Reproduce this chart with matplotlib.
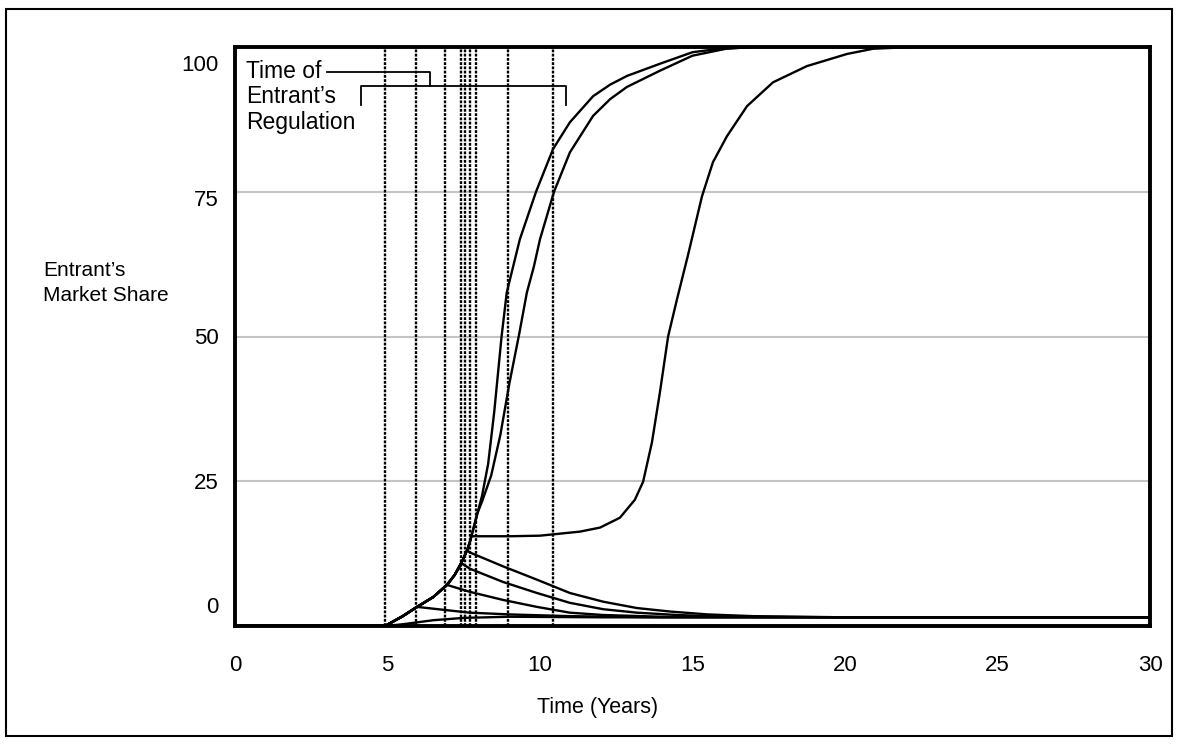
import matplotlib
matplotlib.use('Agg')
import matplotlib.pyplot as plt
from matplotlib.patches import Rectangle
from matplotlib.transforms import ScaledTranslation

plt.rcParams['font.family'] = ['Liberation Sans', 'DejaVu Sans']

# regulation times (years) for each simulated run
reg_times = [4.92, 5.93, 6.89, 7.40, 7.54, 7.70, 7.89, 8.95, 10.43]

# shared growth path before any regulation kicks in
base_t = [0, 4.92, 5.5, 5.97, 6.5, 6.95, 7.2, 7.44, 7.61, 7.70, 7.85, 7.95]
base_s = [0, 0, 1.7, 3.3, 5.0, 7.1, 8.8, 11.1, 13.1, 14.5, 17.5, 19.5]

# late regulation: entrant takes over the market
late_t = [8.1, 8.3, 8.5, 8.74, 8.91, 9.12, 9.34, 9.87, 10.43, 10.98, 11.74, 12.3, 12.85,
          13.93, 15.0, 15.9, 17.0, 30]
late_s = [22.5, 28, 37, 50, 57.6, 62.1, 66.8, 75, 82.4, 87.0, 91.5, 93.5, 95.0,
          97.1, 99.1, 99.7, 100, 100]

mid_t = [8.1, 8.4, 8.7, 9.0, 9.32, 9.57, 9.80, 10.0, 10.46, 10.98, 11.74, 12.3, 12.85,
         13.93, 15.0, 16.1, 17.0, 30]
mid_s = [21.5, 26, 33, 42, 50.5, 57.6, 62.1, 66.8, 75, 81.8, 88.1, 91.0, 93.1,
         95.9, 98.5, 99.7, 100, 100]

# stalls at ~15% before breaking through
stall_t = [7.75, 9, 10, 11.31, 11.97, 12.62, 13.11, 13.38, 13.67, 13.93, 14.20, 14.49, 14.85,
           15.31, 15.67, 16.13, 16.79, 17.64, 18.75, 20.07, 20.92, 22.2, 30]
stall_s = [15.5, 15.5, 15.6, 16.3, 17.0, 18.7, 21.8, 24.9, 31.7, 40.3, 50.0, 56.4, 64,
           74.2, 80.1, 84.6, 89.8, 93.9, 96.7, 98.8, 99.7, 100, 100]

# early regulation: share decays toward a small residual
dec1_t = [7.61, 7.70, 8.79, 9.9, 10.98, 12.07, 13.18, 14.26, 15.5, 17, 20, 30]
dec1_s = [13.1, 12.7, 10.3, 8.0, 5.7, 4.2, 3.1, 2.5, 2.0, 1.7, 1.5, 1.5]

dec2_t = [7.44, 7.70, 8.79, 9.9, 10.98, 12.07, 13.18, 14.5, 16, 20, 30]
dec2_s = [10.8, 9.9, 7.6, 5.7, 4.0, 2.9, 2.3, 1.9, 1.6, 1.5, 1.5]

dec3_t = [6.95, 7.70, 8.79, 9.9, 10.98, 12.07, 14, 20, 30]
dec3_s = [7.1, 5.9, 4.5, 3.3, 2.3, 1.9, 1.6, 1.5, 1.5]

dec4_t = [5.97, 7.0, 7.70, 9, 11, 14, 30]
dec4_s = [3.3, 2.7, 2.3, 2.0, 1.7, 1.5, 1.5]

dec5_t = [4.92, 5.5, 6.5, 7.5, 9, 12, 30]
dec5_s = [0, 0.3, 1.0, 1.4, 1.6, 1.5, 1.5]

y_ticks = [0, 25, 50, 75, 100]
x_ticks = [0, 5, 10, 15, 20, 25, 30]


def run(tail_t, tail_s):
    # prepend the common path up to where this run diverges
    head = [(t, s) for t, s in zip(base_t, base_s) if t < tail_t[0]]
    ts = [p[0] for p in head] + list(tail_t)
    ss = [p[1] for p in head] + list(tail_s)
    return ts, ss


fig = plt.figure(figsize=(11.8, 7.44), dpi=100)
ax = fig.add_axes([235 / 1180, 1 - 626 / 744, 915 / 1180, 579 / 744])

for t in reg_times:
    ax.axvline(t, color='black', linestyle=(0, (1.2, 0.6)), linewidth=1.7, zorder=2)

for tail_t, tail_s in [(late_t, late_s), (mid_t, mid_s), (stall_t, stall_s),
                       (dec1_t, dec1_s), (dec2_t, dec2_s), (dec3_t, dec3_s),
                       (dec4_t, dec4_s), (dec5_t, dec5_s)]:
    ts, ss = run(tail_t, tail_s)
    ax.plot(ts, ss, color='black', linewidth=1.7, zorder=3)

ax.set_xlim(0, 30)
ax.set_ylim(0, 100)
ax.set_xticks(x_ticks)
ax.set_yticks(y_ticks)
ax.set_xticklabels([str(v) for v in x_ticks])
ax.set_yticklabels([str(v) for v in y_ticks])
ax.tick_params(length=0, labelsize=16)
ax.tick_params(axis='x', pad=21)
ax.tick_params(axis='y', pad=12)
ax.yaxis.grid(True, color='#c4c4c4', linewidth=1.5)
ax.set_axisbelow(True)
for sp in ax.spines.values():
    sp.set_linewidth(2.8)
    sp.set_color('black')

# nudge the end labels inward like the original plotting tool
shifts = {0: 15, 75: -4.5, 100: -11.5}
for val, lab in zip(y_ticks, ax.get_yticklabels()):
    dy = shifts.get(val, 0)
    lab.set_transform(lab.get_transform() + ScaledTranslation(0, dy / 72, fig.dpi_scale_trans))

ax.set_xlabel('Time (Years)', fontsize=15.5)
ax.xaxis.set_label_coords(0.396, -0.123)

fig.text(43 / 1180, 1 - 283 / 744, "Entrant\u2019s\nMarket Share", fontsize=15,
         ha='left', va='center', linespacing=1.35)

# annotation for the regulation lines
ax.text(0.36, 97.7, "Time of\nEntrant\u2019s\nRegulation", fontsize=16.5,
        ha='left', va='top', linespacing=1.12, zorder=4,
        bbox=dict(facecolor='white', edgecolor='none', pad=0))
ax.plot([3.02, 6.39, 6.39], [95.7, 95.7, 93.3], color='black', linewidth=1.3, zorder=4)
ax.plot([4.13, 4.13, 10.85, 10.85], [90.0, 93.3, 93.3, 90.0], color='black', linewidth=1.3, zorder=4)

fig.add_artist(Rectangle((6 / 1180, 1 - 736 / 744), 1166 / 1180, 727 / 744,
                         transform=fig.transFigure, fill=False, linewidth=1.5,
                         edgecolor='black'))

fig.savefig('out.png', dpi=100)
